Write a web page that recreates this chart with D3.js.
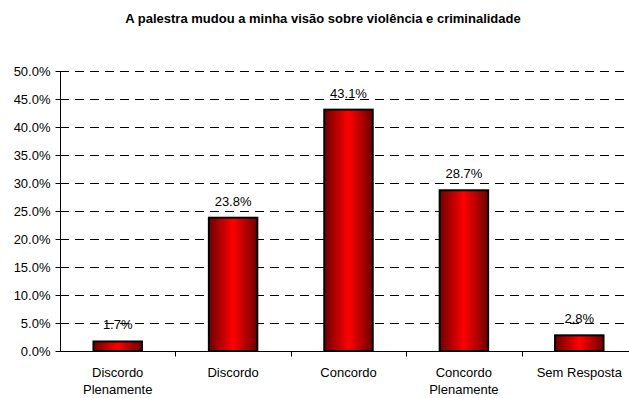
<!DOCTYPE html>
<html>
<head>
<meta charset="utf-8">
<script src="https://cdn.jsdelivr.net/npm/d3@7"></script>
<style>
  body { margin: 0; background: #fff; }
  text { font-family: "Liberation Sans", Arial, sans-serif; }
</style>
</head>
<body>
<div id="chart"></div>
<script>
var w = 629;
var h = 398;

var categories = [["Discordo", "Plenamente"], ["Discordo"], ["Concordo"], ["Concordo", "Plenamente"], ["Sem Resposta"]];
var values = [1.7, 23.8, 43.1, 28.7, 2.8];
var yTicks = [0, 5, 10, 15, 20, 25, 30, 35, 40, 45, 50];

var margin = {left: 60, top: 71, bottom: 47};
var plotW = 5 * 115.4;

var svg = d3.select("#chart")
    .append("svg")
    .attr("width", w)
    .attr("height", h);

var grad = svg.append("defs").append("linearGradient")
    .attr("id", "barGrad")
    .attr("x1", "0%").attr("x2", "100%")
    .attr("y1", "0%").attr("y2", "0%");
grad.append("stop").attr("offset", "0%").attr("stop-color", "#6e0000");
grad.append("stop").attr("offset", "50%").attr("stop-color", "#ff0000");
grad.append("stop").attr("offset", "100%").attr("stop-color", "#6e0000");

var x = d3.scaleBand()
    .domain(d3.range(values.length))
    .range([margin.left, margin.left + plotW])
    .paddingInner(0.58)
    .paddingOuter(0.29);

var y = d3.scaleLinear()
    .domain([0, 50])
    .range([h - margin.bottom, margin.top]);

// title
svg.append("text")
    .attr("x", 323)
    .attr("y", 23)
    .attr("text-anchor", "middle")
    .style("font-size", "13px")
    .style("font-weight", "bold")
    .text("A palestra mudou a minha visão sobre violência e criminalidade");

// dashed gridlines
svg.append("g")
    .selectAll("line")
    .data(yTicks.filter(function(d) { return d > 0; }))
    .enter()
    .append("line")
    .attr("x1", margin.left)
    .attr("x2", margin.left + plotW)
    .attr("y1", function(d) { return Math.round(y(d)) + 0.5; })
    .attr("y2", function(d) { return Math.round(y(d)) + 0.5; })
    .attr("stroke", "#000")
    .attr("stroke-dasharray", "9,6");

// y axis
var yAxis = d3.axisLeft(y)
    .tickValues(yTicks)
    .tickSize(5)
    .tickPadding(5)
    .tickFormat(function(d) { return d.toFixed(1) + "%"; });

svg.append("g")
    .attr("transform", "translate(" + (margin.left + 0.5) + ",0)")
    .call(yAxis)
    .call(function(g) {
        g.select(".domain").attr("d", "M0," + y(50) + "V" + (y(0) + 0.5));
        g.selectAll("text").style("font-size", "13px").style("font-family", "Liberation Sans, Arial, sans-serif").attr("fill", "#000");
    });

// bars
svg.append("g")
    .selectAll("rect")
    .data(values)
    .enter()
    .append("rect")
    .attr("x", function(d, i) { return x(i); })
    .attr("y", function(d) { return y(d); })
    .attr("width", x.bandwidth())
    .attr("height", function(d) { return y(0) - y(d); })
    .attr("fill", "url(#barGrad)")
    .attr("stroke", "#000")
    .attr("stroke-width", 2);

// value labels
svg.append("g")
    .selectAll("text")
    .data(values)
    .enter()
    .append("text")
    .attr("x", function(d, i) { return x(i) + x.bandwidth() / 2; })
    .attr("y", function(d) { return y(d) - 12; })
    .attr("text-anchor", "middle")
    .style("font-size", "13px")
    .text(function(d) { return d.toFixed(1) + "%"; });

// x axis line and ticks
var xAxisY = Math.round(y(0)) + 0.5;
svg.append("line")
    .attr("x1", margin.left)
    .attr("x2", margin.left + plotW)
    .attr("y1", xAxisY)
    .attr("y2", xAxisY)
    .attr("stroke", "#000");

var step = x.step();
svg.append("g")
    .selectAll("line")
    .data(d3.range(1, values.length))
    .enter()
    .append("line")
    .attr("x1", function(d) { return Math.round(x(d) - x.paddingInner() * step / 2) + 0.5; })
    .attr("x2", function(d) { return Math.round(x(d) - x.paddingInner() * step / 2) + 0.5; })
    .attr("y1", xAxisY)
    .attr("y2", xAxisY + 5)
    .attr("stroke", "#000");

// category labels
var labels = svg.append("g")
    .selectAll("text")
    .data(categories)
    .enter()
    .append("text")
    .attr("x", function(d, i) { return x(i) + x.bandwidth() / 2; })
    .attr("y", 377)
    .attr("text-anchor", "middle")
    .style("font-size", "13px");

labels.selectAll("tspan")
    .data(function(d) { return d; })
    .enter()
    .append("tspan")
    .attr("x", function() { return d3.select(this.parentNode).attr("x"); })
    .attr("dy", function(d, i) { return i === 0 ? 0 : 17; })
    .text(function(d) { return d; });
</script>
</body>
</html>
